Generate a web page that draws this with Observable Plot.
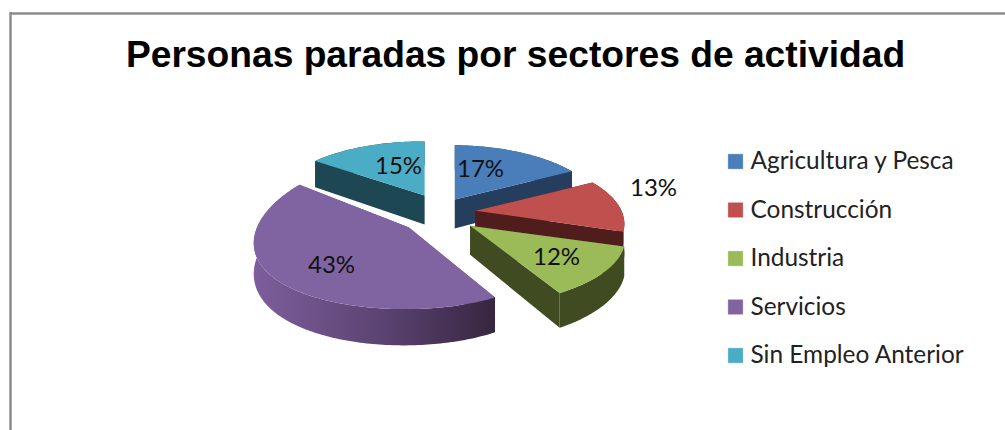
<!DOCTYPE html>
<html><head><meta charset="utf-8">
<script src="https://cdn.jsdelivr.net/npm/d3@7"></script>
<script src="https://cdn.jsdelivr.net/npm/@observablehq/plot@0.6"></script>
<style>html,body{margin:0;padding:0;background:#fff}svg{display:block}</style>
</head><body><div id="chart"></div>
<script>
const chartTitle = "Personas paradas por sectores de actividad";
const categories = ["Agricultura y Pesca", "Construcción", "Industria", "Servicios", "Sin Empleo Anterior"];
const shares = [17, 13, 12, 43, 15];
const topColors = ["#4a7ebb", "#c0504d", "#9bbb59", "#8064a2", "#4bacc6"];
const sideColors = ["#253e5e", "#4f1d1c", "#404b22", "url(#purpleSide)", "#1d4753"];
const explosion = [0.8, 1, 1.1, 1.2, 1];
const radiusScale = [1, 1, 1.04, 1, 1];
const tilt = [65, 65, 64, 75, 65];
const tiltPerspective = [0.2, 0.2, 0.2, 0.08, 0.2];
const labelShift = [[40, -43], [213, -24], [116, 45], [-109, 53], [-42, -46]];

// projection of the tilted pie
const W = 1005, H = 430;
const cx = 440, cy = 212, explodeX = 35, explodeY = 19;
const R = 149, K = 0.2, K2 = 0.02, DEPTH = 29;

const total = d3.sum(shares);
const toAngle = v => v / total * 2 * Math.PI;
let acc = 0;
const slices = shares.map((v, i) => {
  const a0 = toAngle(acc); acc += v; const a1 = toAngle(acc);
  const mid = (a0 + a1) / 2;
  return {i, a0, a1,
    ax: cx + explosion[i] * explodeX * Math.sin(mid),
    ay: cy - explosion[i] * explodeY * Math.cos(mid)};
});
const rim = (s, a, drop = 0) => {
  const X = Math.sin(a), Y = Math.cos(a), w = 1 + K * Y + K2 * X;
  const wy = 1 + tiltPerspective[s.i] * Y + K2 * X;
  return {x: s.ax + radiusScale[s.i] * R * X / w, y: s.ay - tilt[s.i] * Y / wy + drop * DEPTH / w};
};
const apex = (s, drop = 0) => ({x: s.ax, y: s.ay + drop * DEPTH});
const arc = (s, drop = 0) => {
  const n = Math.ceil((s.a1 - s.a0) * 180 / Math.PI);
  return d3.range(n + 1).map(k => rim(s, s.a0 + (s.a1 - s.a0) * k / n, drop));
};
const poly = (pts, fill) => Plot.line(pts, {x: "x", y: "y", fill, stroke: "none"});
const sliceMarks = s => {
  const side = sideColors[s.i], top = topColors[s.i];
  const a = arc(s), b = arc(s, 1);
  return [
    poly([apex(s), a[0], b[0], apex(s, 1)], side),
    poly([apex(s), a[a.length - 1], b[b.length - 1], apex(s, 1)], side),
    poly([...a, ...b.slice().reverse()], side),
    poly([apex(s), ...a], top)
  ];
};
const drawOrder = [4, 0, 1, 2, 3];

const defs = () => {
  const svg = d3.create("svg:g");
  const g = svg.append("defs").append("linearGradient").attr("id", "purpleSide");
  g.append("stop").attr("offset", "0%").attr("stop-color", "#7d5e9c");
  g.append("stop").attr("offset", "55%").attr("stop-color", "#5a4270");
  g.append("stop").attr("offset", "100%").attr("stop-color", "#37263f");
  return svg.node();
};

const labelFont = "Lato, 'Open Sans', sans-serif";
const chart = Plot.plot({
  width: W, height: H, margin: 0,
  x: {domain: [0, W], range: [0, W], axis: null},
  y: {domain: [0, H], range: [0, H], axis: null},
  marks: [
    defs,
    Plot.ruleY([13], {x1: 10, x2: W, stroke: "#8c8c8c", strokeWidth: 2.5}),
    Plot.ruleX([10], {y1: 12, y2: H, stroke: "#8c8c8c", strokeWidth: 2.5}),
    Plot.text([chartTitle], {x: () => 515, y: () => 55, text: d => d, fontSize: 37.2, fontWeight: "bold", fontFamily: "'Liberation Sans', Arial, sans-serif", fill: "#000"}),
    ...drawOrder.flatMap(i => sliceMarks(slices[i])),
    Plot.text(slices, {x: s => cx + labelShift[s.i][0], y: s => cy + labelShift[s.i][1], text: s => shares[s.i] + "%", fontSize: 24, fontFamily: labelFont, fill: "#111"}),
    Plot.dot(categories, {x: () => 735, y: (d, i) => 161 + i * 48.5, symbol: "square", r: 8.6, fill: (d, i) => topColors[i], stroke: "#fff", strokeOpacity: 0.5, strokeWidth: 0.6}),
    Plot.text(categories, {x: () => 750, y: (d, i) => 161 + i * 48.5, text: d => d, textAnchor: "start", fontSize: 24.4, fontFamily: labelFont, fill: "#222"})
  ]
});
document.getElementById("chart").append(chart);
</script>
</body></html>
